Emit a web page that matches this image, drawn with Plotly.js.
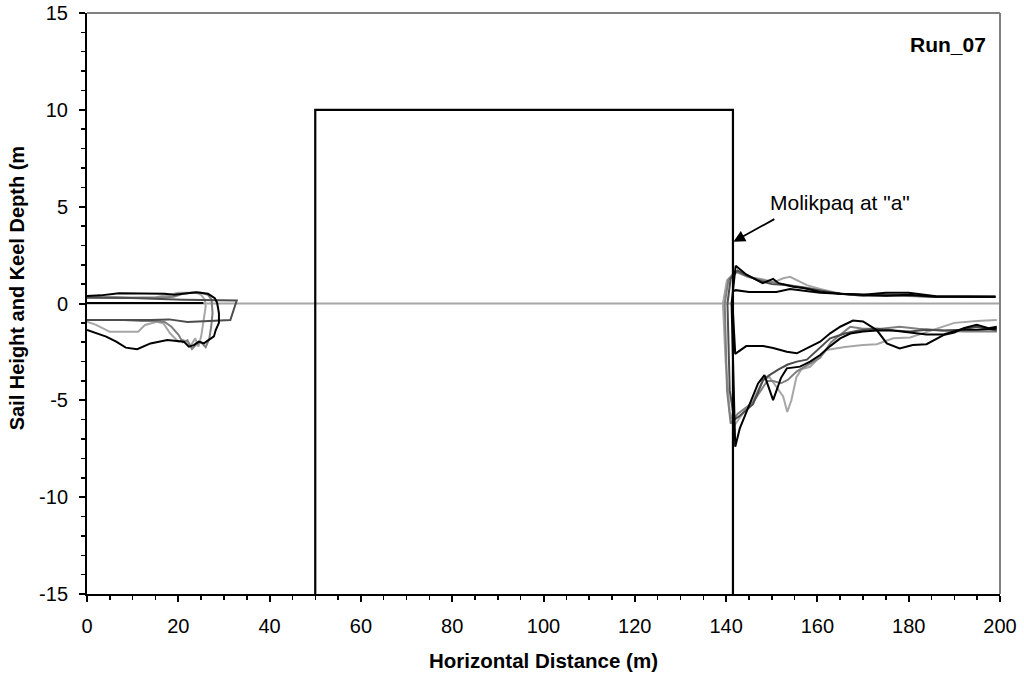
<!DOCTYPE html>
<html>
<head>
<meta charset="utf-8">
<script src="https://cdn.plot.ly/plotly-3.0.1.min.js"></script>
<style>html,body{margin:0;padding:0;background:#fff;}#chart{width:1024px;height:677px;}</style>
</head>
<body>
<div id="chart"></div>
<script>
// Reference level line and Molikpaq outline
const zeroX = [0, 200];
const zeroY = [0, 0];
const boxX = [50, 50, 141.5, 141.5];
const boxY = [-15, 10, 10, -15];

// Left-side profiles (sail then keel, as traced loops)
const leftLightX = [0,5,10,15,18,20,22,24,25,25.8,26,25.5,25,24.4,23.7,22.6,21.1,20,18.2,16.7,15.3,12.7,11.2,8,5,2,0];
const leftLightY = [0.32,0.35,0.3,0.32,0.45,0.55,0.56,0.55,0.45,0.2,-0.16,-1.0,-1.71,-2.23,-1.8,-2.23,-1.88,-1.97,-1.54,-1.02,-0.94,-1.11,-1.46,-1.46,-1.46,-1.1,-0.94];
const leftMedX = [0,8,15,19,21,23,25,26.5,27.3,27.5,27.2,26.8,26,25,24,23,22,21,20,18.5,17,15,12,8,4,0];
const leftMedY = [0.35,0.3,0.3,0.35,0.5,0.55,0.55,0.45,0.2,-0.5,-1.2,-1.8,-2.25,-2.0,-2.1,-2.35,-1.9,-2.0,-1.6,-1.2,-0.95,-0.9,-0.9,-0.85,-0.85,-0.85];
const leftDarkX = [0,10,21,32.8,31.4,25,22,18,14,0];
const leftDarkY = [0.3,0.28,0.2,0.15,-0.85,-0.9,-0.95,-0.82,-0.85,-0.85];
const leftBlackAX = [0, 25.5];
const leftBlackAY = [0.02, 0.02];
const leftBlackBX = [0,3,7,12,17,19,21,24,26.5,28,28.5,28.9,28.9,28.2,27.8,26.7,25.6,24.5,23.4,22.3,21.2,17.6,13.9,11,8.5,6.4,4.2,0];
const leftBlackBY = [0.39,0.42,0.53,0.53,0.5,0.45,0.5,0.58,0.5,0.28,0.04,-0.5,-1.0,-1.37,-1.7,-1.88,-2.06,-1.97,-2.15,-2.23,-1.97,-1.88,-2.06,-2.36,-2.28,-1.97,-1.71,-1.37];

// Right-side profiles: sails
const rLightSailX = [139.3,140.2,141.4,142.5,145,148,150.5,152.5,154,155.5,157.7,160.6,165,170,175,180,186,192,199];
const rLightSailY = [0,1.2,1.5,1.65,1.35,1.25,1.1,1.3,1.38,1.2,0.95,0.75,0.5,0.45,0.4,0.4,0.35,0.35,0.35];
const rMedSailX = [139.7,140.5,142,144.5,148,151,155,158,162,167,172,178,185,192,199];
const rMedSailY = [0,1.2,1.65,1.4,1.2,1.05,0.9,0.8,0.6,0.45,0.4,0.4,0.35,0.35,0.35];
const rDarkSailX = [140.3,141,142.5,144,147,150,153,156,160,165,170,175,180,186,192,199];
const rDarkSailY = [0,1.3,1.7,1.5,1.2,1.0,0.95,0.85,0.7,0.5,0.4,0.45,0.4,0.35,0.35,0.35];
const rBlackASailX = [141.4,142.1,145,148,151,154,156,160.6,165,170,175,180,186,192,199];
const rBlackASailY = [0.61,0.69,0.6,0.6,0.6,0.75,0.7,0.55,0.5,0.45,0.55,0.55,0.38,0.35,0.35];
const rBlackBSailX = [141.2,142.1,144.4,146,148,150.3,151.5,154.7,157,160.6,165,170,175,180,186,192,199];
const rBlackBSailY = [0,1.95,1.5,1.3,1.05,1.27,1.05,0.86,0.8,0.6,0.5,0.45,0.4,0.45,0.35,0.35,0.35];

// Right-side profiles: keels
const rLightKeelX = [139.3,139.9,140.8,141.8,143,145.9,148.1,149.5,151,152.5,153.4,154.3,155.4,156.5,158.4,160,162,166,170,173,176.6,180.3,183.9,187.6,190,194.9,199.3];
const rLightKeelY = [0,-3,-5.6,-6.3,-5.9,-5.0,-3.95,-3.8,-4.3,-4.8,-5.6,-5.0,-3.8,-3.4,-3.27,-2.9,-2.4,-2.25,-2.14,-2.1,-1.8,-1.75,-1.46,-1.2,-1.0,-0.9,-0.85];
const rMedKeelX = [139.7,140.2,141,142.5,145.9,149,150.3,152,153.5,155.5,158.4,160.6,163,167.2,170,174,178,182,187.6,192,199.3];
const rMedKeelY = [0,-4.5,-6.2,-5.7,-5.1,-4.0,-4.0,-4.12,-3.95,-3.5,-3.1,-2.8,-2.0,-1.2,-1.3,-1.3,-1.2,-1.3,-1.4,-1.45,-1.45];
const rDarkKeelX = [140.3,140.8,141.8,143,145.9,148.1,149.5,151.5,153.5,155.5,157.7,160.6,162.8,166,169,173,176.6,180.3,183.9,187.6,191.2,194.9,199.3];
const rDarkKeelY = [0,-4.5,-6.0,-5.8,-5.2,-3.95,-3.7,-3.4,-3.15,-3.0,-2.9,-2.3,-1.8,-1.55,-1.4,-1.3,-1.4,-1.45,-1.35,-1.4,-1.35,-1.2,-1.4];
const rBlackAKeelX = [141.4,142,144.4,148.1,150.3,153.3,155.5,157.7,160.6,162.8,165,167.8,170,173,175.2,178,180.9,183.9,187.6,190,192,194.9,197.5,199.3];
const rBlackAKeelY = [0,-2.6,-2.2,-2.2,-2.3,-2.49,-2.57,-2.3,-1.97,-1.54,-1.2,-0.88,-0.93,-1.37,-2.06,-2.32,-2.14,-2.1,-1.63,-1.5,-1.28,-1.1,-1.28,-1.2];
const rBlackBKeelX = [141.2,142,143,145,147,148.4,150.3,152,153.3,156.2,158.4,160.6,162.8,165,167.2,170,173,176.6,180.3,183.9,187.6,191.2,194.9,199.3];
const rBlackBKeelY = [0,-7.4,-6.45,-5.25,-4.13,-3.7,-4.99,-3.85,-3.35,-3.26,-3.0,-2.66,-2.2,-1.8,-1.55,-1.45,-1.4,-1.4,-1.5,-1.6,-1.6,-1.35,-1.35,-1.3];

// Tick labels
const xTickVals = [0,20,40,60,80,100,120,140,160,180,200];
const yTickVals = [-15,-10,-5,0,5,10,15];

const LIGHT = '#a6a6a6', MED = '#7f7f7f', DARK = '#4d4d4d', BLACK = '#000000';
function tr(x, y, color, w) {
  return {x: x, y: y, type: 'scatter', mode: 'lines', line: {color: color, width: w || 2}, hoverinfo: 'skip', showlegend: false};
}
const data = [
  tr(zeroX, zeroY, LIGHT, 1.8),
  tr(leftLightX, leftLightY, LIGHT),
  tr(rLightSailX, rLightSailY, LIGHT),
  tr(rLightKeelX, rLightKeelY, LIGHT),
  tr(leftMedX, leftMedY, MED),
  tr(rMedSailX, rMedSailY, MED),
  tr(rMedKeelX, rMedKeelY, MED),
  tr(leftDarkX, leftDarkY, DARK),
  tr(rDarkSailX, rDarkSailY, DARK),
  tr(rDarkKeelX, rDarkKeelY, DARK),
  tr(leftBlackAX, leftBlackAY, BLACK),
  tr(rBlackASailX, rBlackASailY, BLACK),
  tr(rBlackAKeelX, rBlackAKeelY, BLACK),
  tr(leftBlackBX, leftBlackBY, BLACK),
  tr(rBlackBSailX, rBlackBSailY, BLACK),
  tr(rBlackBKeelX, rBlackBKeelY, BLACK),
  tr(boxX, boxY, BLACK, 2.2)
];

const FONT = 'Liberation Sans, Arial, sans-serif';
const layout = {
  width: 1024, height: 677,
  margin: {l: 87, r: 24, t: 13, b: 83},
  paper_bgcolor: '#fff', plot_bgcolor: '#fff',
  font: {family: FONT, color: '#000', size: 20},
  showlegend: false,
  xaxis: {
    range: [0, 200], tickvals: xTickVals, ticktext: xTickVals.map(String),
    showgrid: false, zeroline: false, showline: true, linecolor: '#000', linewidth: 2,
    ticks: 'outside', ticklen: 6, tickwidth: 2, tickcolor: '#000', ticklabelstandoff: 7,
    minor: {dtick: 5, tick0: 0, ticks: 'outside', ticklen: 4, tickwidth: 1.5, tickcolor: '#000', showgrid: false},
    tickfont: {size: 20, family: FONT},
    title: {text: '<b>Horizontal Distance (m)</b>', font: {size: 20.5, family: FONT}, standoff: 18}
  },
  yaxis: {
    range: [-15, 15], tickvals: yTickVals, ticktext: yTickVals.map(String),
    showgrid: false, zeroline: false, showline: true, linecolor: '#000', linewidth: 2,
    ticks: 'outside', ticklen: 6, tickwidth: 2, tickcolor: '#000', ticklabelstandoff: 7,
    minor: {dtick: 1, tick0: 0, ticks: 'outside', ticklen: 4, tickwidth: 1.5, tickcolor: '#000', showgrid: false},
    tickfont: {size: 20, family: FONT}
  },
  shapes: [
    {type: 'line', xref: 'paper', yref: 'paper', x0: 0, x1: 1, y0: 1, y1: 1, line: {color: '#808080', width: 2}},
    {type: 'line', xref: 'paper', yref: 'paper', x0: 1, x1: 1, y0: 0, y1: 1, line: {color: '#808080', width: 2}}
  ],
  annotations: [
    {x: -0.0767, y: 0.526, xref: 'paper', yref: 'paper', text: '<b>Sail Height and Keel Depth (m</b>', textangle: -90, showarrow: false, xanchor: 'center', yanchor: 'middle', font: {size: 20, family: FONT}},
    {x: 197.4, y: 13.35, xref: 'x', yref: 'y', text: '<b>Run_07</b>', showarrow: false, xanchor: 'right', font: {size: 21, family: FONT}},
    {x: 149.2, y: 5.2, xref: 'x', yref: 'y', text: 'Molikpaq at "a"', showarrow: false, xanchor: 'left', font: {size: 21, family: FONT}},
    {x: 141.6, y: 3.19, xref: 'x', yref: 'y', axref: 'x', ayref: 'y', ax: 150.9, ay: 4.4, text: '', showarrow: true, arrowhead: 2, arrowsize: 1.3, arrowwidth: 1.8, arrowcolor: '#000', standoff: 0, startstandoff: 0}
  ]
};
Plotly.newPlot('chart', data, layout, {staticPlot: true, displayModeBar: false});
</script>
</body>
</html>
